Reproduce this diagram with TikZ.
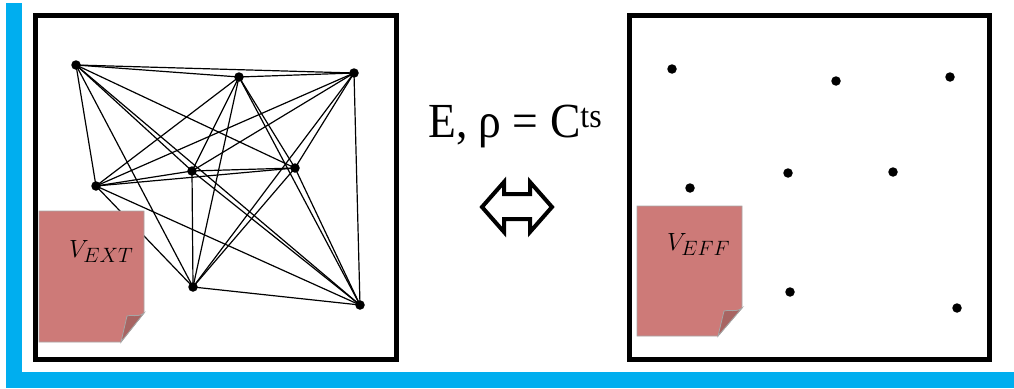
\documentclass[tikz,border=0pt]{standalone}
\usepackage{fontspec}
\setmainfont{Liberation Serif}

\definecolor{bandblue}{RGB}{0,174,239}
\definecolor{notepink}{RGB}{205,122,120}
\definecolor{notefold}{RGB}{168,100,98}

\tikzset{
  site/.style={circle,fill=black,inner sep=0pt,minimum size=9.5pt},
  frame/.style={draw,line width=5pt},
  bond/.style={line width=1.2pt},
  note/.style={fill=notepink,draw=gray!70,line width=0.8pt},
  fold/.style={fill=notefold,draw=gray!70,line width=0.8pt},
}

\begin{document}
\begin{tikzpicture}[x=1pt,y=-1pt]
  \useasboundingbox (0,0) rectangle (1014,388);
  % blue band
  \fill[bandblue] (6,3) rectangle (22,388);
  \fill[bandblue] (6,372) rectangle (1014,388);

  % left box: interacting sites
  \draw[frame] (35.5,15.5) rectangle (396.5,359.5);
  \node[site] (a) at (76,65) {};
  \node[site] (b) at (239,77) {};
  \node[site] (c) at (354,73) {};
  \node[site] (d) at (96,186) {};
  \node[site] (e) at (192,171) {};
  \node[site] (f) at (295,168) {};
  \node[site] (g) at (193,287) {};
  \node[site] (h) at (360,305) {};
  \foreach \u/\v in {a/b,a/c,a/d,a/e,a/f,a/g,a/h,
                     b/c,b/d,b/e,b/f,b/g,b/h,
                     c/d,c/e,c/f,c/g,c/h,
                     d/e,d/f,d/g,d/h,
                     e/f,e/g,e/h,
                     f/g,f/h,
                     g/h}
    \draw[bond] (\u.center) -- (\v.center);
  \path[note] (39,211) -- (144,211) -- (144,313) -- (121,342) -- (39,342) -- cycle;
  \path[fold] (144,313) .. controls (138,318) and (131,314) .. (127,316) -- (121,342) -- cycle;
  \node[anchor=base west,inner sep=0pt,font=\fontsize{31}{36}\selectfont] (vext) at (69,257) {$V_{EXT}$};

  % middle: law and equivalence
  \node[anchor=base west,inner sep=0pt,font=\fontsize{49}{56}\selectfont] (law) at (428,137)
    {\scalebox{0.93}[1]{E, ρ = C\textsuperscript{ts}}};
  \draw[line width=4pt,line join=miter] (482,207) -- (504,182) -- (504,194) -- (530,194) -- (530,182)
    -- (552,207) -- (530,232) -- (530,219) -- (504,219) -- (504,232) -- cycle;

  % right box: free sites
  \draw[frame] (629.5,15.5) rectangle (989.5,359.5);
  \node[site] (a') at (672,69) {};
  \node[site] (b') at (836,81) {};
  \node[site] (c') at (950,77) {};
  \node[site] (d') at (690,188) {};
  \node[site] (e') at (788,173) {};
  \node[site] (f') at (893,172) {};
  \node[site] (g') at (790,292) {};
  \node[site] (h') at (957,308) {};
  \path[note] (637,206) -- (742,206) -- (742,308) -- (718,336) -- (637,336) -- cycle;
  \path[fold] (742,308) .. controls (736,313) and (729,309) .. (724,311) -- (718,336) -- cycle;
  \node[anchor=base west,inner sep=0pt,font=\fontsize{31}{36}\selectfont] (veff) at (667,250) {$V_{EFF}$};
\end{tikzpicture}
\end{document}
